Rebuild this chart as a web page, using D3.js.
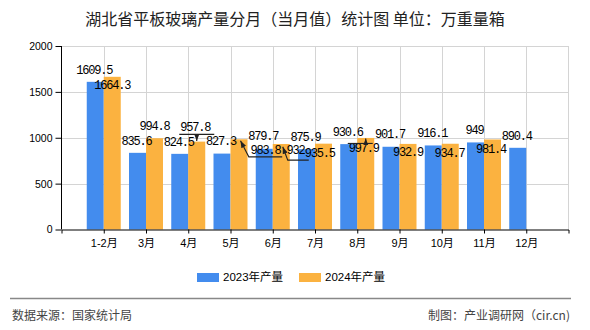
<!DOCTYPE html>
<html><head><meta charset="utf-8">
<script src="https://cdn.jsdelivr.net/npm/d3@7"></script>
<style>body{margin:0;background:#fff} svg{display:block}</style>
</head><body>
<svg id="c" width="590" height="330"></svg>
<script>
const categories = ["1-2月","3月","4月","5月","6月","7月","8月","9月","10月","11月","12月"];
const values2023 = [1609.5,835.6,824.5,827.3,879.7,875.9,930.6,901.7,916.1,949,890.4];
const values2024 = [1664.3,994.8,957.8,983.8,932,935.5,997.9,932.9,934.7,981.4,null];
const seriesNames = ["2023年产量","2024年产量"];
const yTicks = [0,500,1000,1500,2000];
const titleText = "湖北省平板玻璃产量分月（当月值）统计图 单位：万重量箱";
const sourceText = "数据来源：国家统计局";
const creditText = "制图：产业调研网（cir.cn)";

// label placement for the 2024 series (offsets from bar-top centre, px)
const lab24 = [
  {dx:0,dy:8},
  {dx:0,dy:-12},
  {dx:-1.5,dy:-14.5,lead:"below"},
  {dx:26.5,dy:10.2,lead:"elbow",tip:[1.5,1.6],elbow:[9.8,17.6],end:[43.2,17.6]},
  {dx:14.2,dy:5.4,lead:"elbow",tip:[1.5,2.8],elbow:[6.5,16.1],end:[27.5,16.1]},
  {dx:-3.7,dy:9.2},
  {dx:-1.9,dy:9.9,lead:"above"},
  {dx:0,dy:8.3},
  {dx:-0.7,dy:8.6},
  {dx:-1.5,dy:9},
  null
];

const colors = ["#438cee","#fbb240"];
const svg = d3.select("#c");
const x = d3.scalePoint().domain(categories).range([61.5,568.5]).padding(1);
const y = d3.scaleLinear().domain([0,2000]).range([229.5,46]);
const bw = 17;
const cjk = "'Liberation Sans','Noto Sans CJK SC',sans-serif";
const mono = "'Liberation Mono','Noto Sans CJK SC',monospace";

svg.append("defs").append("marker").attr("id","arr")
  .attr("viewBox","0 0 8 6").attr("refX",8).attr("refY",3)
  .attr("markerWidth",7).attr("markerHeight",6).attr("markerUnits","userSpaceOnUse")
  .attr("orient","auto")
  .append("path").attr("d","M0,0 L8,3 L0,6 z").attr("fill","#222");

// title
svg.append("text").attr("x",295).attr("y",19).attr("dy","0.35em")
  .attr("text-anchor","middle").attr("font-family","'Noto Sans CJK SC',sans-serif")
  .attr("font-size",16).attr("fill","#222").text(titleText);

// grid
const g = svg.append("g");
g.selectAll(".hg").data(yTicks.filter(d=>d>0)).join("line")
  .attr("x1",61.5).attr("x2",568.5).attr("y1",d=>Math.round(y(d))+0.5).attr("y2",d=>Math.round(y(d))+0.5)
  .attr("stroke","#d4d4d4");
g.selectAll(".vg").data(categories).join("line")
  .attr("x1",d=>Math.round(x(d))+0.5).attr("x2",d=>Math.round(x(d))+0.5)
  .attr("y1",y(2000)).attr("y2",y(0)).attr("stroke","#d4d4d4");
g.append("line").attr("x1",568.5).attr("x2",568.5).attr("y1",y(2000)).attr("y2",y(0)).attr("stroke","#d4d4d4");

// bars
const bars = svg.append("g");
bars.selectAll(".b23").data(values2023).join("rect")
  .attr("x",(d,i)=>x(categories[i])-bw).attr("width",bw)
  .attr("y",d=>y(d)).attr("height",d=>y(0)-y(d)).attr("fill",colors[0]);
bars.selectAll(".b24").data(values2024.map((v,i)=>({v,i})).filter(d=>d.v!=null)).join("rect")
  .attr("x",d=>x(categories[d.i])).attr("width",bw)
  .attr("y",d=>y(d.v)).attr("height",d=>y(0)-y(d.v)).attr("fill",colors[1]);

// axes
const yAxis = svg.append("g").attr("transform","translate(61.5,0)")
  .call(d3.axisLeft(y).tickValues(yTicks).tickSize(6).tickPadding(3).tickFormat(d3.format("d")));
yAxis.select(".domain").attr("d","M0,46V229.5").attr("stroke","#000");
yAxis.selectAll("text").attr("font-family",cjk).attr("font-size",10.5).attr("fill","#000");

const xAxis = svg.append("g").attr("transform","translate(0,229.5)")
  .call(d3.axisBottom(x).tickSize(4).tickPadding(6).tickSizeOuter(4));
xAxis.select(".domain").attr("stroke","#000");
xAxis.selectAll("text").attr("font-family",cjk).attr("font-size",11).attr("fill","#000");

// labels
const lbl = svg.append("g").attr("font-family",mono).attr("font-size",12)
  .attr("letter-spacing","-1.2px").attr("fill","#000").attr("text-anchor","middle");
lbl.selectAll(".l23").data(values2023).join("text")
  .attr("x",(d,i)=>x(categories[i])-bw/2-1).attr("y",d=>y(d)-12.5).attr("dy","0.35em")
  .text(d=>d);

const lead = svg.append("g").attr("stroke","#222").attr("stroke-width",1.1).attr("fill","none");
values2024.forEach((v,i)=>{
  if(v==null) return;
  const L = lab24[i];
  const cx = x(categories[i]) + bw/2, top = y(v);
  if(L.lead==="below"){
    lead.append("line").attr("x1",cx-17.5).attr("x2",cx+17.5).attr("y1",top-7.2).attr("y2",top-7.2);
    lead.append("path").attr("d",`M${cx},${top-7.2}L${cx},${top-0.5}`).attr("marker-end","url(#arr)");
  } else if(L.lead==="above"){
    lead.append("line").attr("x1",cx-18).attr("x2",cx+7).attr("y1",top+5.5).attr("y2",top+5.5);
    lead.append("path").attr("d",`M${cx},${top+5.5}L${cx},${top+0.5}`).attr("marker-end","url(#arr)");
  } else if(L.lead==="elbow"){
    lead.append("path")
      .attr("d",`M${cx+L.end[0]},${top+L.end[1]}L${cx+L.elbow[0]},${top+L.elbow[1]}L${cx+L.tip[0]},${top+L.tip[1]}`)
      .attr("marker-end","url(#arr)");
  }
  lbl.append("text").attr("x",cx+L.dx).attr("y",top+L.dy).attr("dy","0.35em").text(v);
});

// legend
const leg = svg.append("g");
const legX = [197,299];
seriesNames.forEach((s,i)=>{
  leg.append("rect").attr("x",legX[i]).attr("y",273).attr("width",22).attr("height",9).attr("fill",colors[i]);
  leg.append("text").attr("x",legX[i]+26).attr("y",277).attr("dy","0.35em")
    .attr("font-family",cjk).attr("font-size",11.5).attr("fill","#000").text(s);
});

// footer
svg.append("line").attr("x1",10).attr("x2",571).attr("y1",298.5).attr("y2",298.5)
  .attr("stroke","#888").attr("stroke-width",1.5);
svg.append("text").attr("x",12).attr("y",316).attr("dy","0.35em")
  .attr("font-family","'Noto Sans CJK SC',sans-serif").attr("font-size",12).attr("fill","#444").text(sourceText);
svg.append("text").attr("x",570).attr("y",316).attr("dy","0.35em").attr("text-anchor","end")
  .attr("font-family","'Noto Sans CJK SC',sans-serif").attr("font-size",12).attr("fill","#444").text(creditText);
</script>
</body></html>
